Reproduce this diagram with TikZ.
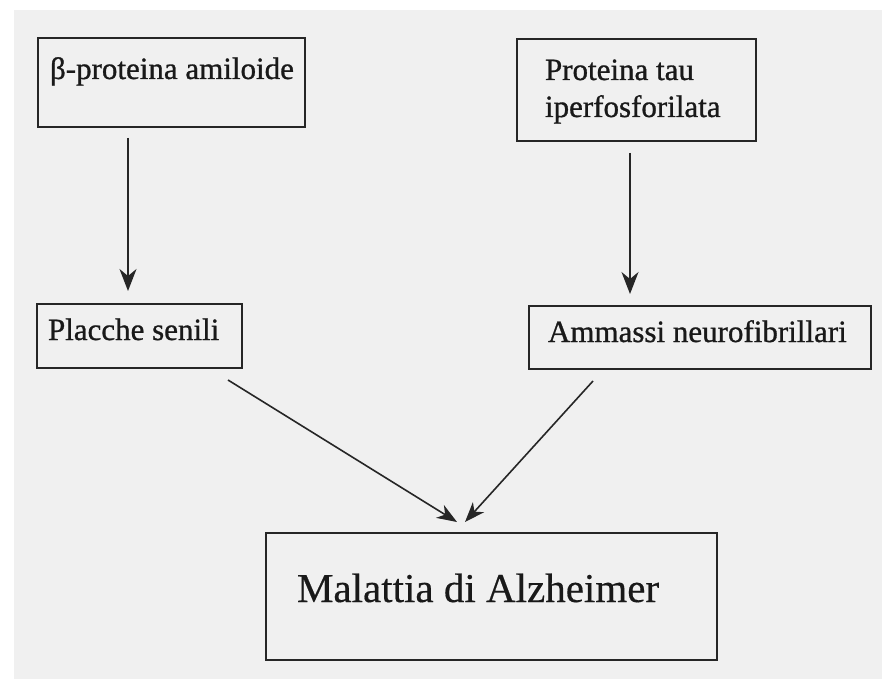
\documentclass[tikz,border=0pt]{standalone}
\usepackage{fontspec}
\setmainfont{Liberation Serif}
\newfontfamily\scanfont[FakeBold=0.9]{Liberation Serif}
\newfontfamily\scanfontlight[FakeBold=0.4]{Liberation Serif}
\usetikzlibrary{arrows.meta}
\begin{document}
\begin{tikzpicture}[x=1pt,y=-1pt,
  box/.style={draw=black!85, line width=1.8pt, inner sep=0pt, outer sep=0pt},
  lbl/.style={inner sep=0pt, outer sep=0pt, anchor=base west, align=left, text=black!90,
    font=\scanfont\fontsize{31}{37}\selectfont},
  big/.style={inner sep=0pt, outer sep=0pt, anchor=base west, text=black!90,
    font=\scanfontlight\fontsize{41}{48}\selectfont},
  arr/.style={draw=black!85, line width=1.6pt, -{Stealth[length=22pt,width=17pt,inset=7pt]}},
  arrd/.style={draw=black!85, line width=1.6pt, -{Stealth[length=20pt,width=15pt,inset=6pt]}}]
\useasboundingbox (0,0) rectangle (882,679);
\fill[white] (0,0) rectangle (882,679);
\fill[black!6] (14,10) rectangle (882,679);
% boxes
\node[box, minimum width=267pt, minimum height=89pt] (b1) at (171.5,82.5) {};
\node[box, minimum width=205pt, minimum height=64pt] (p1) at (139.5,336) {};
\node[box, minimum width=239pt, minimum height=102pt] (b2) at (636.5,90) {};
\node[box, minimum width=342pt, minimum height=63pt] (p2) at (700,337.5) {};
\node[box, minimum width=451pt, minimum height=127pt] (m) at (491.5,596.5) {};
% texts
\node[lbl] (t1) at (50,79) {β-proteina amiloide};
\node[lbl] (t2) at (545,117) {Proteina tau\\iperfosforilata};
\node[lbl] (t3) at (48,340) {Placche senili};
\node[lbl] (t4) at (548,342) {Ammassi neurofibrillari};
\node[big] (t5) at (297,602) {Malattia di Alzheimer};
% connectors
\coordinate (a1s) at (128,138);
\coordinate (a1e) at (128,291);
\coordinate (a2s) at (630,153);
\coordinate (a2e) at (630,294);
\coordinate (a3s) at (228,380);
\coordinate (a3e) at (457,522);
\coordinate (a4s) at (593,381);
\coordinate (a4e) at (465,522);
\draw[arr] (a1s) -- (a1e);
\draw[arr] (a2s) -- (a2e);
\draw[arrd] (a3s) -- (a3e);
\draw[arrd] (a4s) -- (a4e);
\end{tikzpicture}
\end{document}
